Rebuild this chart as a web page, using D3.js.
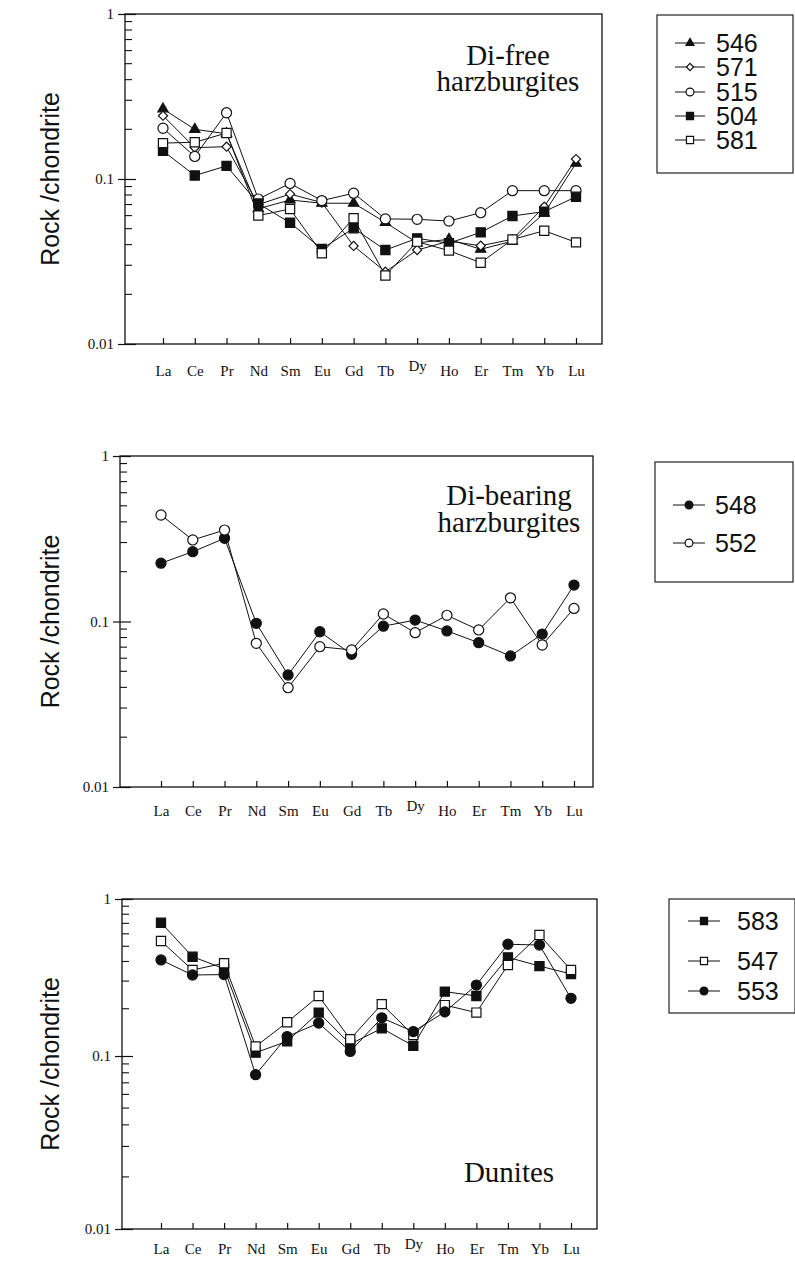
<!DOCTYPE html>
<html>
<head>
<meta charset="utf-8">
<title>REE chondrite-normalised patterns</title>
<script src="https://cdnjs.cloudflare.com/ajax/libs/d3/7.8.5/d3.min.js"></script>
<style>
  body { margin: 0; background: #fff; }
  .frame { fill: none; stroke: #111; stroke-width: 1.3; }
  .axis path { display: none; }
  .axis line { stroke: #111; stroke-width: 1.2; }
  .axis text { font-family: "Liberation Serif", "Times New Roman", serif; font-size: 15px; fill: #111; }
  .series { fill: none; stroke: #111; stroke-width: 1; }
  .ylab { font-family: "Liberation Sans", Arial, sans-serif; font-size: 25px; fill: #111; }
  .title { font-family: "Liberation Serif", "Times New Roman", serif; font-size: 29px; fill: #111; }
  .legend rect { fill: none; stroke: #222; stroke-width: 1.2; }
  .legend text { font-family: "Liberation Sans", Arial, sans-serif; font-size: 25px; fill: #111; }
</style>
</head>
<body>
<script>
var elements = ["La", "Ce", "Pr", "Nd", "Sm", "Eu", "Gd", "Tb", "Dy", "Ho", "Er", "Tm", "Yb", "Lu"];
var yTicks = [1, 0.1, 0.01];

// Di-free harzburgites
var s546 = [0.266, 0.20, 0.188, 0.066, 0.0746, 0.0713, 0.0713, 0.0546, 0.041, 0.0431, 0.0375, 0.042, 0.062, 0.1245];
var s571 = [0.242, 0.155, 0.157, 0.070, 0.081, 0.072, 0.0393, 0.0274, 0.0371, 0.042, 0.0394, 0.0431, 0.068, 0.132];
var s515 = [0.203, 0.137, 0.252, 0.0756, 0.094, 0.074, 0.082, 0.0573, 0.057, 0.0556, 0.0625, 0.085, 0.085, 0.085];
var s504 = [0.148, 0.105, 0.12, 0.071, 0.0543, 0.0377, 0.0503, 0.0371, 0.0437, 0.0408, 0.0475, 0.0597, 0.0634, 0.078];
var s581 = [0.165, 0.167, 0.19, 0.060, 0.0658, 0.0355, 0.0578, 0.026, 0.0417, 0.0368, 0.0311, 0.043, 0.0486, 0.0413];

// Di-bearing harzburgites
var s548 = [0.225, 0.264, 0.318, 0.0975, 0.0475, 0.0867, 0.0633, 0.0937, 0.102, 0.0877, 0.0745, 0.0619, 0.084, 0.166];
var s552 = [0.44, 0.311, 0.357, 0.0738, 0.0398, 0.0704, 0.0673, 0.111, 0.0856, 0.109, 0.0889, 0.139, 0.0721, 0.12];

// Dunites
var s583 = [0.706, 0.429, 0.36, 0.105, 0.124, 0.189, 0.119, 0.15, 0.116, 0.257, 0.241, 0.425, 0.374, 0.333];
var s547 = [0.54, 0.353, 0.39, 0.115, 0.164, 0.241, 0.128, 0.214, 0.136, 0.211, 0.189, 0.38, 0.59, 0.353];
var s553 = [0.409, 0.328, 0.33, 0.078, 0.133, 0.162, 0.107, 0.175, 0.143, 0.191, 0.283, 0.515, 0.509, 0.233];

var panels = [
    {
        title: ["Di-free", "harzburgites"], titleX: 508, titleY: 65, lineGap: 26,
        left: 125, right: 602, top: 14, bottom: 344, labelPad: 21,
        points: [163, 576], yRange: [344, 14], yDomain: [0.01, 1],
        series: [
            { name: "546", values: s546, shape: "triangle", filled: true },
            { name: "571", values: s571, shape: "diamond", filled: false },
            { name: "515", values: s515, shape: "circle", filled: false },
            { name: "504", values: s504, shape: "square", filled: true },
            { name: "581", values: s581, shape: "square", filled: false }
        ],
        legend: { x: 657, y: 15, w: 136, h: 158, rows: [43, 67, 92, 116, 140], line: [675, 705], textX: 716 }
    },
    {
        title: ["Di-bearing", "harzburgites"], titleX: 509, titleY: 505, lineGap: 27,
        left: 120, right: 593, top: 456, bottom: 787, labelPad: 18,
        points: [161, 574], yRange: [787, 456], yDomain: [0.01, 1],
        series: [
            { name: "548", values: s548, shape: "circle", filled: true },
            { name: "552", values: s552, shape: "circle", filled: false }
        ],
        legend: { x: 655, y: 462, w: 138, h: 120, rows: [505, 543], line: [673, 705], textX: 715 }
    },
    {
        title: ["Dunites"], titleX: 509, titleY: 1182, lineGap: 27,
        left: 122, right: 597, top: 899, bottom: 1229, labelPad: 14,
        points: [161, 571], yRange: [1229, 1056, 899], yDomain: [0.01, 0.1, 1],
        series: [
            { name: "583", values: s583, shape: "square", filled: true },
            { name: "547", values: s547, shape: "square", filled: false },
            { name: "553", values: s553, shape: "circle", filled: true }
        ],
        legend: { x: 669, y: 899, w: 126, h: 114, rows: [921, 961, 991], line: [688, 720], textX: 737 }
    }
];

var width = 795, height = 1262;

var svg = d3.select("body").append("svg")
    .attr("width", width)
    .attr("height", height);

function symbolPath(shape, big) {
    var k = big ? 1 : 0.6;
    if (shape === "triangle") return d3.symbol(d3.symbolTriangle, 46 * k)();
    if (shape === "diamond") return d3.symbol(d3.symbolSquare, 42 * k)();
    if (shape === "circle") return d3.symbol(d3.symbolCircle, 80 * k)();
    return d3.symbol(d3.symbolSquare, 84 * k)();
}

function addMarker(g, s, x, y, big) {
    g.append("path")
        .attr("d", symbolPath(s.shape, big))
        .attr("transform", "translate(" + x + "," + y + ")" + (s.shape === "diamond" ? " rotate(45)" : ""))
        .attr("fill", s.filled ? "#111" : "#fff")
        .attr("stroke", "#111")
        .attr("stroke-width", 1.2);
}

panels.forEach(function (p) {
    var x = d3.scalePoint().domain(elements).range(p.points);
    var y = d3.scaleLog().domain(p.yDomain).range(p.yRange);

    var g = svg.append("g");

    // minor ticks, inside the frame
    var minors = [];
    [0.01, 0.1].forEach(function (dec) {
        for (var m = 2; m <= 9; m++) minors.push(dec * m);
    });
    g.selectAll("line.minor")
        .data(minors)
        .enter().append("line")
        .attr("class", "minor")
        .attr("x1", p.left).attr("x2", p.left + 7)
        .attr("y1", function (d) { return y(d); })
        .attr("y2", function (d) { return y(d); })
        .attr("stroke", "#111").attr("stroke-width", 1.1);

    // y axis with major ticks crossing the frame
    var yAxis = d3.axisLeft(y)
        .tickValues(yTicks)
        .tickFormat(function (d) { return d === 1 ? "1" : d3.format(".2~f")(d); })
        .tickSizeOuter(0)
        .tickSizeInner(7)
        .tickPadding(4);
    var ya = g.append("g")
        .attr("class", "axis")
        .attr("transform", "translate(" + p.left + ",0)")
        .call(yAxis);
    ya.selectAll(".tick line").attr("x2", -7).attr("x1", 11);

    // x axis: ticks pointing up, labels below
    var xAxis = d3.axisBottom(x)
        .tickSizeOuter(0)
        .tickSizeInner(-6)
        .tickPadding(p.labelPad);
    var xa = g.append("g")
        .attr("class", "axis")
        .attr("transform", "translate(0," + p.bottom + ")")
        .call(xAxis);
    xa.selectAll(".tick text")
        .filter(function (d) { return d === "Dy"; })
        .attr("dy", "0.4em");

    g.append("rect")
        .attr("class", "frame")
        .attr("x", p.left).attr("y", p.top)
        .attr("width", p.right - p.left)
        .attr("height", p.bottom - p.top);

    var line = d3.line()
        .x(function (d, i) { return x(elements[i]); })
        .y(function (d) { return y(d); });

    p.series.forEach(function (s) {
        g.append("path")
            .attr("class", "series")
            .attr("d", line(s.values));
    });
    p.series.forEach(function (s) {
        s.values.forEach(function (v, i) {
            addMarker(g, s, x(elements[i]), y(v), true);
        });
    });

    // panel title
    var t = g.append("text")
        .attr("class", "title")
        .attr("text-anchor", "middle");
    p.title.forEach(function (str, i) {
        t.append("tspan")
            .attr("x", p.titleX)
            .attr("y", p.titleY + i * p.lineGap)
            .text(str);
    });

    // y label
    g.append("text")
        .attr("class", "ylab")
        .attr("text-anchor", "middle")
        .attr("transform", "translate(59," + (p.top + p.bottom) / 2 + ") rotate(-90)")
        .text("Rock /chondrite");

    // legend
    var L = p.legend;
    var lg = g.append("g").attr("class", "legend");
    lg.append("rect")
        .attr("x", L.x).attr("y", L.y)
        .attr("width", L.w).attr("height", L.h);
    p.series.forEach(function (s, i) {
        var ry = L.rows[i];
        lg.append("line")
            .attr("x1", L.line[0]).attr("x2", L.line[1])
            .attr("y1", ry).attr("y2", ry)
            .attr("stroke", "#111").attr("stroke-width", 1);
        addMarker(lg, s, (L.line[0] + L.line[1]) / 2, ry, false);
        lg.append("text")
            .attr("x", L.textX)
            .attr("y", ry + 9)
            .text(s.name);
    });
});
</script>
</body>
</html>
